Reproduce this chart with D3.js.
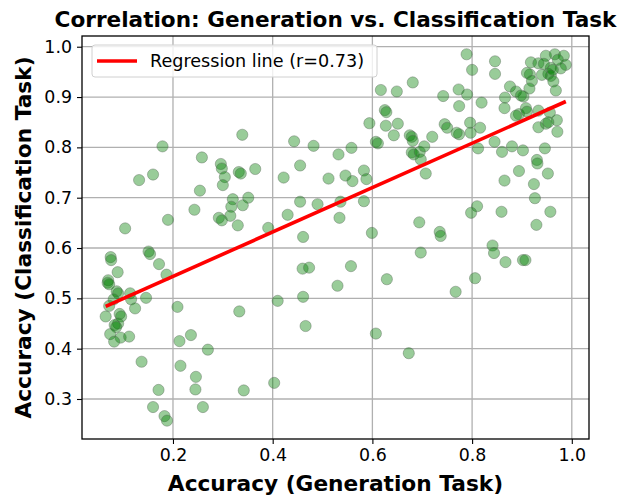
<!DOCTYPE html>
<html>
<head>
<meta charset="utf-8">
<script src="https://cdn.jsdelivr.net/npm/d3@7"></script>
<style>
  html, body { margin: 0; padding: 0; background: #fff; }
  svg { display: block; }
  text { font-family: "DejaVu Sans", sans-serif; }
</style>
</head>
<body>
<svg id="chart" width="621" height="498"></svg>
<script>
// ---- data ----
const genAcc = [
  0.179,0.258,0.296,0.298,0.339,0.443,0.482,0.532,0.558,0.594,0.607,0.611,0.625,0.628,0.627,0.651,0.643,0.617,0.649,0.681,
  0.675,0.679,0.681,0.679,0.683,0.695,0.704,0.720,0.742,0.773,0.790,0.774,0.819,0.789,0.800,0.846,0.846,0.745,0.750,0.774,
  0.769,0.796,0.797,0.816,0.845,0.812,0.860,0.880,0.902,0.946,0.930,
  0.918,0.933,0.948,0.966,0.984,0.988,0.978,0.958,0.953,0.958,0.940,0.944,0.916,0.910,0.920,0.915,0.876,0.888,0.903,0.898,
  0.866,0.865,0.963,0.968,0.894,0.908,0.910,0.933,0.956,0.970,0.933,0.948,0.953,0.971,0.972,0.962,0.888,
  0.132,0.160,0.254,0.304,0.300,0.332,0.336,0.320,0.351,0.340,0.317,0.315,0.292,0.298,0.330,0.243,0.190,0.104,0.075,0.076,
  0.151,0.154,0.172,0.089,0.187,0.070,0.365,0.422,0.455,0.512,0.546,0.560,0.583,0.588,0.455,0.490,0.536,0.583,0.430,0.534,
  0.391,0.461,0.599,0.694,0.697,0.460,0.473,0.557,0.629,0.697,0.707,0.931,0.952,0.894,0.865,0.924,0.926,0.810,0.798,0.859,
  0.957,0.929,0.735,0.737,0.841,0.844,0.867,0.902,0.907,0.806,
  0.069,0.072,0.087,0.090,0.114,0.116,0.146,0.081,0.072,0.124,0.093,0.096,0.065,0.090,0.083,0.086,0.074,0.095,0.112,0.082,
  0.209,0.333,0.236,0.213,0.270,0.137,0.215,0.246,0.171,0.245,0.342,0.160,0.260,0.183,0.188,0.530,0.410,0.461,0.466,0.607,
  0.673,0.403,0.767
];
const clsAcc = [
  0.802,0.780,0.767,0.758,0.825,0.812,0.803,0.786,0.799,0.848,0.811,0.808,0.874,0.870,0.843,0.847,0.824,0.914,0.911,0.929,
  0.824,0.821,0.813,0.790,0.786,0.791,0.802,0.821,0.902,0.915,0.905,0.882,0.889,0.985,0.954,0.971,0.946,0.846,0.839,0.826,
  0.829,0.849,0.829,0.839,0.811,0.798,0.791,0.802,0.794,0.798,0.775,
  0.969,0.967,0.982,0.985,0.982,0.964,0.957,0.958,0.946,0.942,0.944,0.966,0.945,0.948,0.932,0.917,0.921,0.911,0.901,0.903,
  0.899,0.878,0.931,0.913,0.866,0.878,0.871,0.873,0.869,0.854,0.840,0.847,0.850,0.831,0.974,0.954,0.863,
  0.735,0.746,0.714,0.741,0.725,0.751,0.748,0.697,0.700,0.685,0.682,0.664,0.660,0.655,0.645,0.676,0.656,0.639,0.582,0.576,
  0.593,0.588,0.568,0.552,0.547,0.536,0.757,0.740,0.764,0.738,0.744,0.733,0.754,0.737,0.692,0.687,0.692,0.693,0.666,0.660,
  0.640,0.622,0.630,0.651,0.591,0.559,0.561,0.564,0.538,0.776,0.748,0.768,0.748,0.753,0.734,0.727,0.699,0.683,0.670,0.672,
  0.672,0.646,0.632,0.624,0.605,0.590,0.572,0.576,0.576,0.540,
  0.531,0.528,0.514,0.510,0.510,0.498,0.501,0.498,0.485,0.480,0.469,0.464,0.464,0.450,0.447,0.443,0.429,0.422,0.424,0.414,
  0.483,0.474,0.427,0.415,0.398,0.374,0.366,0.344,0.318,0.319,0.317,0.284,0.284,0.266,0.257,0.525,0.495,0.503,0.445,0.430,
  0.391,0.332,0.513
];
const regSlope = 0.441;
const regIntercept = 0.4554;
const regLabel = "Regression line (r=0.73)";
const xTicks = [0.2, 0.4, 0.6, 0.8, 1.0];
const yTicks = [0.3, 0.4, 0.5, 0.6, 0.7, 0.8, 0.9, 1.0];
const xLimits = [0.0175, 1.0345];
const yLimits = [0.2205, 1.0213];
const titleText = "Correlation: Generation vs. Classification Task";
const xLabelText = "Accuracy (Generation Task)";
const yLabelText = "Accuracy (Classification Task)";

// ---- layout ----
const W = 621, H = 498;
const m = { left: 82, right: 621 - 589, top: 36, bottom: 498 - 439 };
const pw = W - m.left - m.right, ph = H - m.top - m.bottom;

const svg = d3.select("#chart");
const g = svg.append("g").attr("transform", `translate(${m.left},${m.top})`);

const x = d3.scaleLinear().domain(xLimits).range([0, pw]);
const y = d3.scaleLinear().domain(yLimits).range([ph, 0]);

// grid
g.append("g").selectAll("line").data(xTicks).join("line")
  .attr("x1", d => x(d)).attr("x2", d => x(d)).attr("y1", 0).attr("y2", ph)
  .attr("stroke", "#b0b0b0").attr("stroke-width", 1.3);
g.append("g").selectAll("line").data(yTicks).join("line")
  .attr("y1", d => y(d)).attr("y2", d => y(d)).attr("x1", 0).attr("x2", pw)
  .attr("stroke", "#b0b0b0").attr("stroke-width", 1.3);

// points
const pts = genAcc.map((v, i) => ({ gx: v, cy: clsAcc[i] }));
g.append("g").selectAll("circle").data(pts).join("circle")
  .attr("cx", d => x(d.gx)).attr("cy", d => y(d.cy)).attr("r", 5.6)
  .attr("fill", "green").attr("fill-opacity", 0.4)
  .attr("stroke", "#556655").attr("stroke-opacity", 0.45).attr("stroke-width", 0.9);

// regression line
const xr = d3.extent(genAcc);
g.append("line")
  .attr("x1", x(xr[0])).attr("y1", y(regSlope * xr[0] + regIntercept))
  .attr("x2", x(xr[1])).attr("y2", y(regSlope * xr[1] + regIntercept))
  .attr("stroke", "red").attr("stroke-width", 3.6);

// axes
const xAxis = g.append("g").attr("transform", `translate(0,${ph})`)
  .call(d3.axisBottom(x).tickValues(xTicks).tickFormat(d3.format(".1f")).tickSize(5).tickPadding(5));
const yAxis = g.append("g")
  .call(d3.axisLeft(y).tickValues(yTicks).tickFormat(d3.format(".1f")).tickSize(5).tickPadding(5));
[xAxis, yAxis].forEach(a => {
  a.select(".domain").remove();
  a.selectAll("line").attr("stroke", "#000").attr("stroke-width", 1.1);
  a.selectAll("text").attr("font-size", 17.4).attr("fill", "#000")
   .attr("font-family", "DejaVu Sans, sans-serif");
});

// frame
g.append("rect").attr("x", 0).attr("y", 0).attr("width", pw).attr("height", ph)
  .attr("fill", "none").attr("stroke", "#000").attr("stroke-width", 1.3);

// legend
const lg = svg.append("g");
lg.append("rect").attr("x", 92).attr("y", 45).attr("width", 285).attr("height", 32)
  .attr("rx", 3).attr("fill", "#fff").attr("fill-opacity", 0.8)
  .attr("stroke", "#d0d0d0").attr("stroke-width", 1);
lg.append("line").attr("x1", 97).attr("x2", 137).attr("y1", 61).attr("y2", 61)
  .attr("stroke", "red").attr("stroke-width", 3.3);
lg.append("text").attr("x", 150).attr("y", 67).attr("font-size", 17.6).text(regLabel);

// title and labels
svg.append("text").attr("x", m.left + pw / 2).attr("y", 27).attr("text-anchor", "middle")
  .attr("font-size", 21.6).attr("font-weight", "bold").text(titleText);
svg.append("text").attr("x", m.left + pw / 2).attr("y", 491).attr("text-anchor", "middle")
  .attr("font-size", 21.7).attr("font-weight", "bold").text(xLabelText);
svg.append("text").attr("transform", `translate(31,${m.top + ph / 2}) rotate(-90)`)
  .attr("text-anchor", "middle")
  .attr("font-size", 21.7).attr("font-weight", "bold").text(yLabelText);
</script>
</body>
</html>
